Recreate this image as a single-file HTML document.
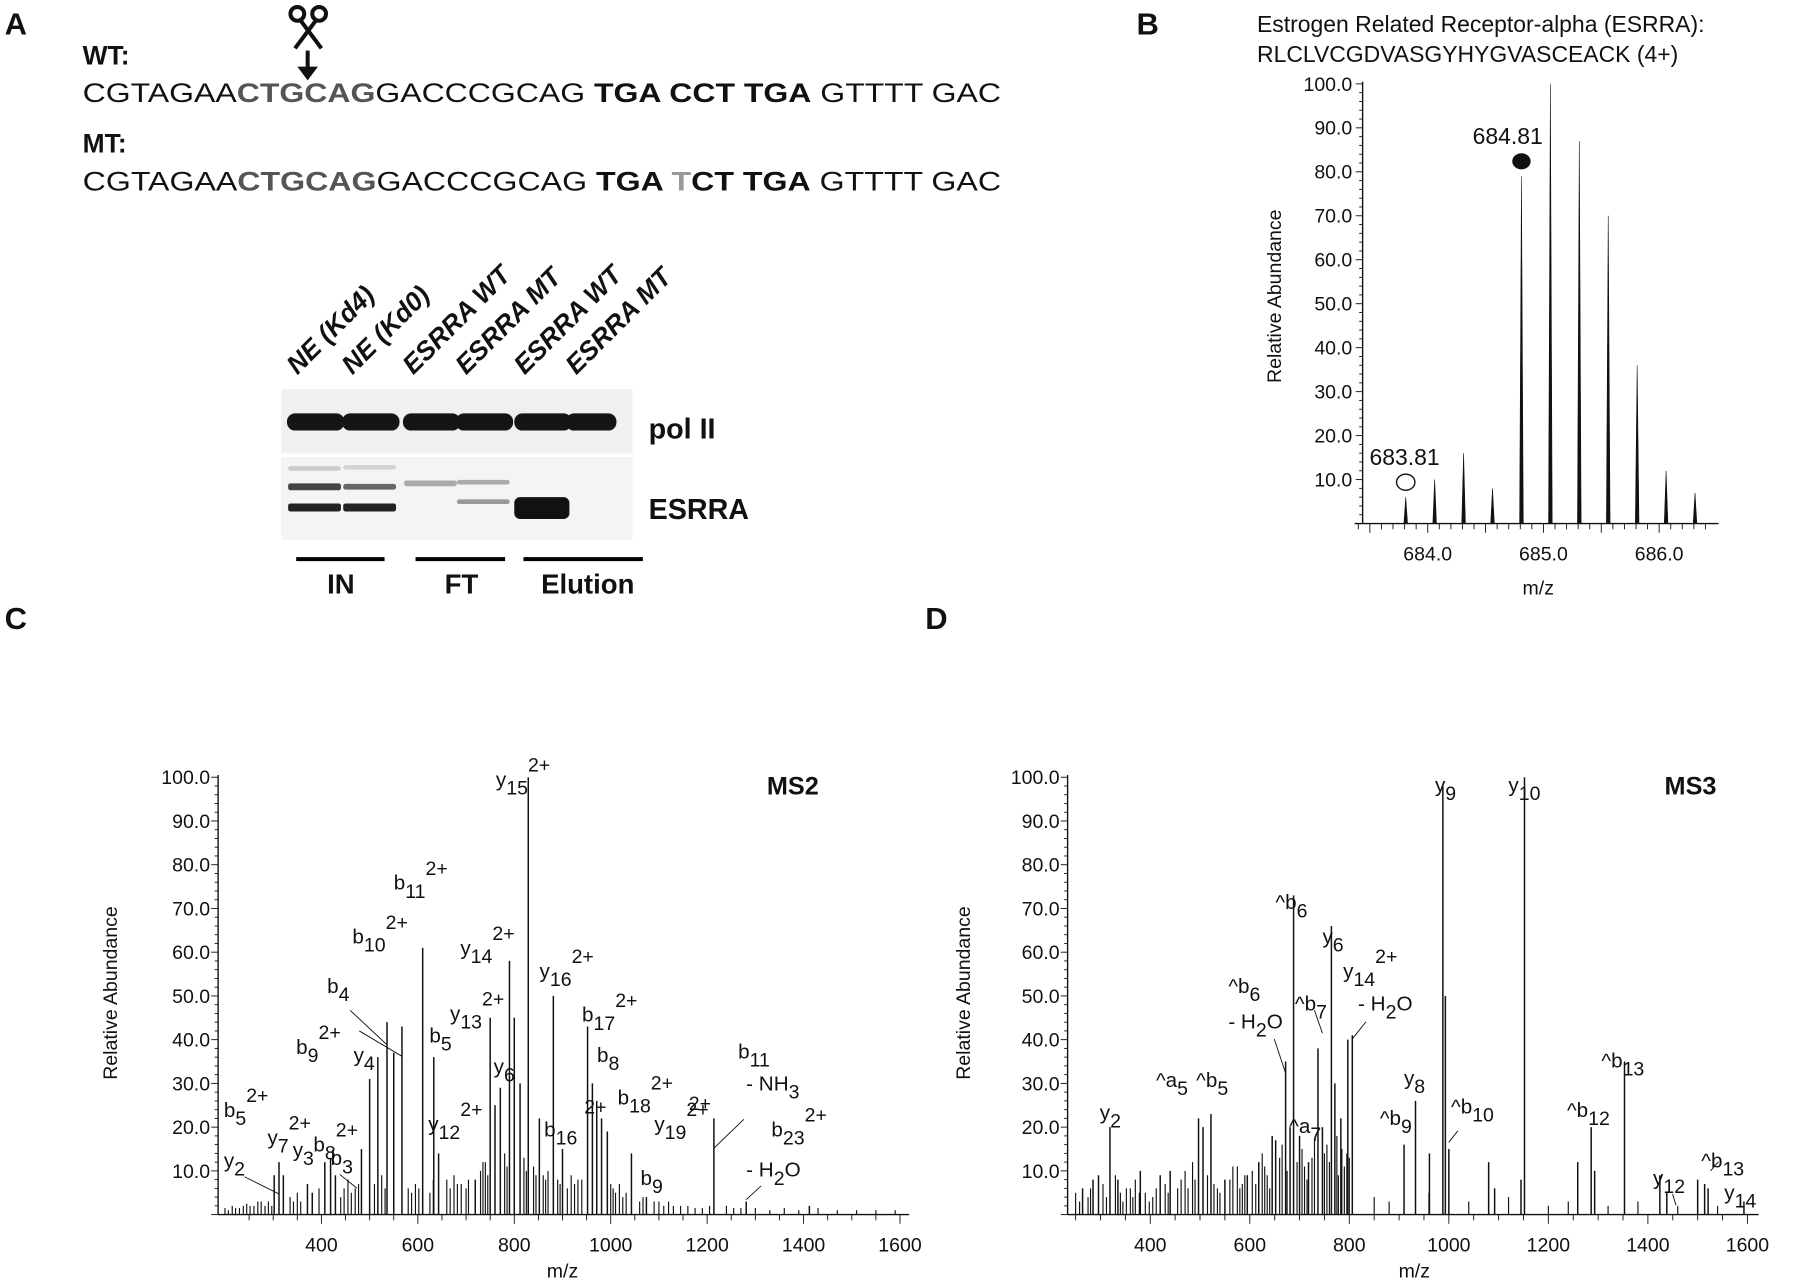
<!DOCTYPE html>
<html><head><meta charset="utf-8"><style>
html,body{margin:0;padding:0;background:#fff}
svg{display:block}
text{font-family:"Liberation Sans",Arial,sans-serif;fill:#111}
.b{font-weight:bold}
</style></head><body>
<svg id="fig" width="1800" height="1287" viewBox="0 0 1568 1121" xmlns="http://www.w3.org/2000/svg">
<g id="panelA">
<text x="4" y="30" font-size="27" class="b">A</text>
<text x="72" y="56" font-size="23" class="b">WT:</text>
<text x="72" y="89" font-size="23" textLength="800" lengthAdjust="spacingAndGlyphs">CGTAGAA<tspan class="b" fill="#555">CTGCAG</tspan>GACCCGCAG <tspan class="b">TGA CCT TGA</tspan> GTTTT GAC</text>
<text x="72" y="133" font-size="23" class="b">MT:</text>
<text x="72" y="166" font-size="23" textLength="800" lengthAdjust="spacingAndGlyphs">CGTAGAA<tspan class="b" fill="#555">CTGCAG</tspan>GACCCGCAG <tspan class="b">TGA <tspan fill="#999">T</tspan>CT TGA</tspan> GTTTT GAC</text>
<g stroke="#111" fill="none" stroke-width="3.5">
<circle cx="259" cy="12" r="6"/><circle cx="278" cy="12" r="6"/>
<line x1="262" y1="18" x2="280" y2="42"/><line x1="275" y1="18" x2="257" y2="42"/>
<line x1="268" y1="44" x2="268" y2="60"/>
<polygon points="259,58 277,58 268,70" fill="#111" stroke="none"/>
</g>
<g id="blot"></g>
</g>
<g id="panelB">
<text x="990" y="30" font-size="27" class="b">B</text>
<text x="1095" y="28" font-size="20">Estrogen Related Receptor-alpha (ESRRA):</text>
<text x="1095" y="54" font-size="20">RLCLVCGDVASGYHYGVASCEACK (4+)</text>
</g>
<text x="4" y="548" font-size="27" class="b">C</text>
<text x="806" y="548" font-size="27" class="b">D</text>
<g id="panelC"></g>
<g id="panelD"></g>
</svg>
<script>
// ---------- Panel B data ----------
const bMz=[683.81,684.06,684.31,684.56,684.81,685.06,685.31,685.56,685.81,686.06,686.31];
const bAb=[6,10,16,8,79,100,87,70,36,12,7];
const bXTicks=[684.0,685.0,686.0];
const yTicks=[10,20,30,40,50,60,70,80,90,100];
// ---------- Panel C (MS2) data ----------
const c2Mz=[302,312,321,371,381,407,419,429,483,500,517,536,550,567,610,633,643,719,750,760,771,790,800,812,829,852,881,900,952,962,971,981,993,1043,1074,1214,1281,1412];
const c2Ab=[9,12,9,7,5,12,13,9,15,31,36,44,37,43,61,36,14,8,45,25,29,58,45,30,100,22,50,15,43,30,26,22,19,14,4,22,3,2];
const c2NoiseMz=[200,207,215,222,230,238,245,252,260,268,275,283,290,297,335,342,350,357,395,440,447,455,462,470,477,510,525,532,580,587,595,602,625,632,660,667,675,682,690,700,705,730,735,740,745,780,785,820,825,840,845,860,865,870,890,895,910,918,925,932,940,1000,1005,1010,1018,1025,1032,1060,1067,1090,1100,1110,1120,1130,1145,1160,1175,1190,1205,1240,1255,1270,1300,1330,1360,1390,1430,1470,1510,1550,1590];
const c2NoiseAb=[1.5,1,2,1.5,1.5,2,2.5,2,2,3,3,2,3,2,4,3,5,3,6,4,6,8,5,6,7,7,9,6,6,5,7,6,5,8,8,6,9,7,7,6,8,10,12,12,9,14,11,13,10,11,9,9,8,10,8,7,6,9,7,8,8,7,6,5,7,4,5,3,4,3,3,2,3,2,2,2,1.5,1.5,2,2,1.5,1.5,1.5,1,1.5,1,1.5,1,1,1,1];
const cXTicks=[400,600,800,1000,1200,1400,1600];
// ---------- Panel D (MS3) data ----------
const d3Mz=[264,285,296,319,335,380,420,440,497,506,522,550,595,618,645,652,672,681,688,700,718,737,746,764,771,783,797,806,910,933,961,988,993,1000,1080,1092,1145,1152,1259,1286,1293,1353,1424,1438,1500,1514,1521,1593];
const d3Ab=[6,8,9,20,8,10,9,10,22,20,23,8,9,12,18,17,35,20,73,18,12,38,20,66,30,22,40,41,16,26,14,98,50,15,12,6,8,100,12,20,10,35,9,5,8,7,6,3];
const d3NoiseMz=[250,258,275,280,305,312,330,340,345,352,360,365,370,378,390,398,405,412,430,436,455,462,470,476,485,490,515,528,535,540,560,566,575,580,585,590,605,612,625,630,635,640,660,665,675,695,705,710,715,725,730,750,755,760,775,778,785,790,795,800,850,880,960,1040,1120,1200,1240,1320,1380,1460,1540];
const d3NoiseAb=[5,3,4,6,7,4,9,5,3,6,6,4,8,5,5,3,4,6,7,5,6,8,10,6,12,8,9,7,6,5,8,11,11,6,7,9,10,7,14,11,9,6,13,16,10,12,15,11,8,13,17,14,16,12,18,9,15,11,14,13,4,3,5,3,4,2,3,2,3,2,2];
const dXTicks=[400,600,800,1000,1200,1400,1600];

const NS='http://www.w3.org/2000/svg';
function mk(tag,attrs,parent){const e=document.createElementNS(NS,tag);for(const k in attrs)e.setAttribute(k,attrs[k]);parent.appendChild(e);return e;}
function txt(parent,x,y,s,size,anchor){const t=mk('text',{x:x,y:y,'font-size':size,'text-anchor':anchor||'start'},parent);t.textContent=s;return t;}

// ---------- Blot ----------
(function(){
const g=document.getElementById('blot');
const lanes=[275,323,376,422,473,518];
const names=['NE (Kd4)','NE (Kd0)','ESRRA WT','ESRRA MT','ESRRA WT','ESRRA MT'];
names.forEach((n,i)=>{
 const t=mk('text',{x:0,y:0,'font-size':23,'font-weight':'bold','font-style':'italic',transform:'translate('+(lanes[i]-16)+',327) rotate(-45)'},g);
 t.textContent=n;
 
 
});
mk('rect',{x:245,y:339,width:306,height:56,fill:'#f0f0f0'},g);
mk('rect',{x:245,y:398,width:306,height:72,fill:'#f4f4f4'},g);
lanes.forEach((x,i)=>{mk('rect',{x:x-25,y:360,width:i==5?44:50,height:15,rx:7,fill:'#151515'},g);});
const bands=[[0,408,'#ccc',4],[1,407,'#d4d4d4',4],[0,424,'#444',6],[1,424,'#666',5],[0,442,'#222',7],[1,442,'#222',7],[2,421,'#aaa',5],[3,420,'#aaa',4],[3,437,'#999',4]];
bands.forEach(b=>{mk('rect',{x:lanes[b[0]]-24,y:b[1]-b[3]/2,width:46,height:b[3],rx:2,fill:b[2]},g);});
mk('rect',{x:lanes[4]-25,y:433,width:48,height:19,rx:5,fill:'#111'},g);
const lbl=[['pol II',565,382],['ESRRA',565,452]];
lbl.forEach(l=>{const t=txt(g,l[1],l[2],l[0],25);t.setAttribute('font-weight','bold');});
[[258,335,297,'IN'],[362,440,402,'FT'],[456,560,512,'Elution']].forEach(s=>{
 mk('line',{x1:s[0],y1:487,x2:s[1],y2:487,stroke:'#000','stroke-width':3.5},g);
 const t=txt(g,s[2],517,s[3],24,'middle');t.setAttribute('font-weight','bold');
 
 
});
})();

// ---------- generic y axis ----------
function yAxis(g,ax,y0,per10,labelX,titleX,titleY){
 mk('line',{x1:ax,y1:y0,x2:ax,y2:y0-per10*10-2,stroke:'#111','stroke-width':1.2},g);
 for(let v=0;v<=100;v+=2){const len=(v%10==0)?6:3;mk('line',{x1:ax-len,y1:y0-v*per10/10,x2:ax,y2:y0-v*per10/10,stroke:'#111','stroke-width':0.8},g);}
 yTicks.forEach(v=>{const t=txt(g,labelX,y0-v*per10/10+6,v.toFixed(1),17,'end');});
 const t=mk('text',{x:0,y:0,'font-size':17,'text-anchor':'middle',transform:'translate('+titleX+','+titleY+') rotate(-90)'},g);
 t.textContent='Relative Abundance';
 
 
}

// ---------- Panel B ----------
(function(){
const g=document.getElementById('panelB');
const ax=1187,y0=456,per10=38.3;
const X=m=>1243.7+(m-684)*100.8;
const Y=v=>y0-v*per10/10;
yAxis(g,ax,y0,per10,1178,1116,258);
mk('line',{x1:1180,y1:y0,x2:1497,y2:y0,stroke:'#111','stroke-width':1.2},g);
for(let m=683.4;m<=686.5;m+=0.1){mk('line',{x1:X(m),y1:y0,x2:X(m),y2:y0+(Math.abs(m-Math.round(m*2)/2)<0.01?8:5),stroke:'#111','stroke-width':0.8},g);}
bXTicks.forEach(v=>{const t=txt(g,X(v),y0+32,v.toFixed(1),17,'middle');});
const tt=txt(g,1340,y0+62,'m/z',17,'middle');
bMz.forEach((m,i)=>{
 const p=mk('polygon',{points:(X(m)-1.6)+','+y0+' '+X(m)+','+Y(bAb[i])+' '+(X(m)+1.6)+','+y0,fill:'#111',stroke:'#111','stroke-width':0.5},g);
 
 
});
const c1=mk('ellipse',{cx:X(bMz[0]),cy:Y(bAb[0])-13,rx:8,ry:7,fill:'#fff',stroke:'#111','stroke-width':1.2},g);

const c2=mk('ellipse',{cx:X(bMz[4]),cy:Y(bAb[4])-13,rx:8,ry:7,fill:'#111'},g);

const l1=txt(g,X(bMz[0])-1,Y(bAb[0])-28,'683.81',20,'middle');
const l2=txt(g,X(bMz[4])-12,Y(bAb[4])-28,'684.81',20,'middle');
})();

// ---------- spectrum panel ----------
function spectrum(g,ax,axEnd,x400,pxPer,mz,ab,nmz,nab,ticks,titleX,yLabX,yTitleX){
 const y0=1058,per10=38.1;
 const X=m=>x400+(m-400)*pxPer;
 const Y=v=>y0-v*per10/10;
 yAxis(g,ax,y0,per10,yLabX,yTitleX,865);
 mk('line',{x1:ax,y1:y0,x2:axEnd,y2:y0,stroke:'#111','stroke-width':1.2},g);
 for(let m=250;m<=1600;m+=50){if(X(m)<ax||X(m)>axEnd)continue;mk('line',{x1:X(m),y1:y0,x2:X(m),y2:y0+(m%200==0?8:5),stroke:'#111','stroke-width':0.8},g);}
 ticks.forEach(v=>{const t=txt(g,X(v),y0+32,String(v),17,'middle');});
 const tt=txt(g,titleX,y0+55,'m/z',17,'middle');
 nmz.forEach((m,i)=>{
  const l=mk('line',{x1:X(m),y1:y0,x2:X(m),y2:Y(nab[i]),stroke:'#111','stroke-width':1},g);
  
  
 });
 mz.forEach((m,i)=>{
  const l=mk('line',{x1:X(m),y1:y0,x2:X(m),y2:Y(ab[i]),stroke:'#111','stroke-width':1.3},g);
  
  
 });
}
function ion(g,x,y,base,sub,sup,tail){
 const t=mk('text',{x:x,y:y,'font-size':18},g);
 
 
 const a=document.createElementNS(NS,'tspan');a.textContent=base;t.appendChild(a);
 if(sub){const s=document.createElementNS(NS,'tspan');s.setAttribute('dy','7');s.setAttribute('font-size','17');s.textContent=sub;t.appendChild(s);}
 if(sup){const s=document.createElementNS(NS,'tspan');s.setAttribute('dy',sub?'-20':'-13');s.setAttribute('font-size','17');s.textContent=sup;t.appendChild(s);}
 if(tail){const s=document.createElementNS(NS,'tspan');s.setAttribute('dy','-7');s.textContent=tail;t.appendChild(s);}
 return t;
}
(function(){
const g=document.getElementById('panelC');
spectrum(g,190,792,280,0.42,c2Mz,c2Ab,c2NoiseMz,c2NoiseAb,cXTicks,490,183,102);
const m=txt(g,668,692,'MS2',22);m.setAttribute('font-weight','bold');
const L=[[432,685,'y','15','2+'],[343,775,'b','11','2+'],[401,832,'y','14','2+'],[307,822,'b','10','2+'],[470,852,'y','16','2+'],[285,865,'b','4',''],[392,889,'y','13','2+'],[507,890,'b','17','2+'],[258,918,'b','9','2+'],[374,908,'b','5',''],[520,925,'b','8',''],[308,925,'y','4',''],[430,935,'y','6',''],[195,973,'b','5','2+'],[233,997,'y','7','2+'],[273,1003,'b','8','2+'],[538,962,'b','18','2+'],[474,990,'b','16',''],[373,985,'y','12','2+'],[570,985,'y','19','2+'],[643,922,'b','11',''],[672,990,'b','23','2+'],[195,1017,'y','2',''],[255,1008,'y','3',''],[288,1015,'b','3',''],[558,1032,'b','9','']];
L.forEach(l=>ion(g,l[0],l[1],l[2],l[3],l[4]));
txt(g,509,970,'2+',17);txt(g,600,967,'2+',17);
ion(g,650,950,'- NH','3','');
ion(g,650,1025,'- H','2','','O');
const leads=[[243,1040,213,1025],[311,1035,296,1023],[622,1000,648,975],[650,1045,663,1033],[350,920,313,898],[337,910,305,880]];
leads.forEach(p=>{const l=mk('line',{x1:p[0],y1:p[1],x2:p[2],y2:p[3],stroke:'#111','stroke-width':0.8},g);});
})();
(function(){
const g=document.getElementById('panelD');
spectrum(g,930,1532,1002,0.4335,d3Mz,d3Ab,d3NoiseMz,d3NoiseAb,dXTicks,1232,923,845);
const m=txt(g,1450,692,'MS3',22);m.setAttribute('font-weight','bold');
const L=[[1250,690,'y','9',''],[1314,690,'y','10',''],[1111,792,'^b','6',''],[1152,822,'y','6',''],[1170,852,'y','14','2+'],[1070,865,'^b','6',''],[1128,880,'^b','7',''],[1007,947,'^a','5',''],[1042,947,'^b','5',''],[958,975,'y','2',''],[1123,987,'^a','7',''],[1223,945,'y','8',''],[1202,980,'^b','9',''],[1264,970,'^b','10',''],[1395,930,'^b','13',''],[1365,973,'^b','12',''],[1440,1032,'y','12',''],[1482,1017,'^b','13',''],[1502,1045,'y','14','']];
L.forEach(l=>ion(g,l[0],l[1],l[2],l[3],l[4]));
ion(g,1070,896,'- H','2','','O');
ion(g,1183,880,'- H','2','','O');
const leads=[[1120,935,1110,905],[1152,900,1145,880],[1178,905,1190,890],[1262,995,1270,985],[1457,1040,1460,1050],[1490,1020,1497,1012]];
leads.forEach(p=>{const l=mk('line',{x1:p[0],y1:p[1],x2:p[2],y2:p[3],stroke:'#111','stroke-width':0.8},g);});
})();
</script>
</body></html>
